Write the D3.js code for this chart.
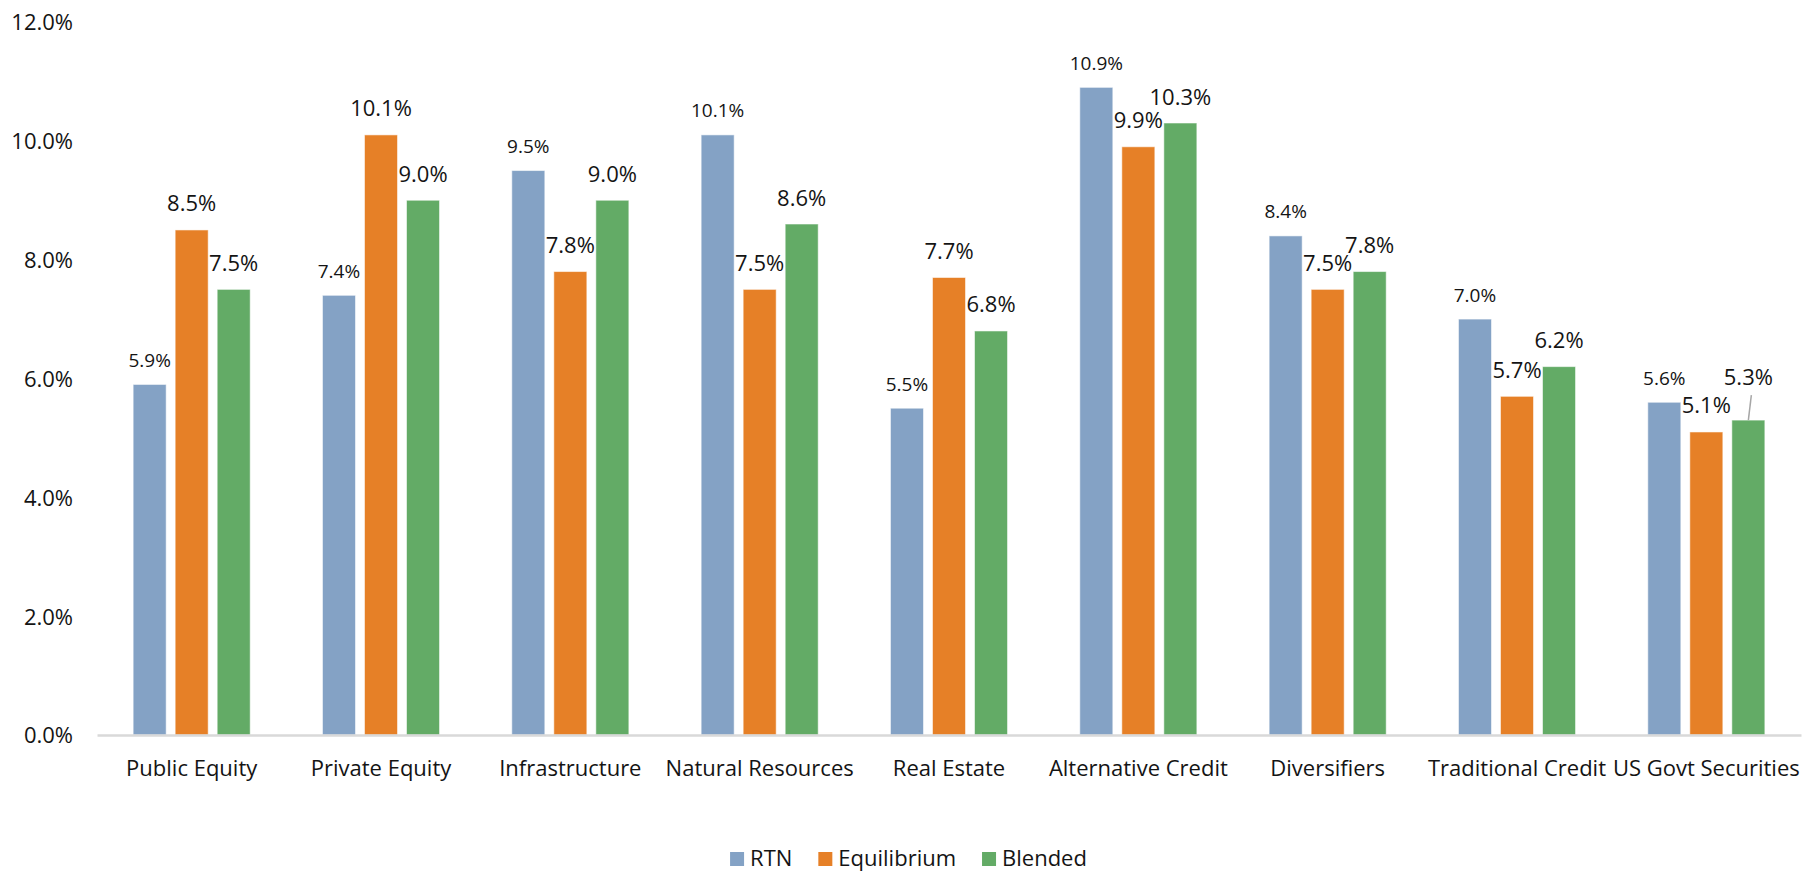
<!DOCTYPE html>
<html>
<head>
<meta charset="utf-8">
<script src="https://cdn.jsdelivr.net/npm/d3@7/dist/d3.min.js"></script>
<style>
  html, body { margin: 0; padding: 0; background: #ffffff; }
  svg { display: block; font-family: "Open Sans", "Noto Sans", sans-serif; }
</style>
</head>
<body>
<svg id="chart" width="1817" height="872"></svg>
<script>
// Asset classes along the x axis
const categories = [
  "Public Equity", "Private Equity", "Infrastructure", "Natural Resources",
  "Real Estate", "Alternative Credit", "Diversifiers", "Traditional Credit",
  "US Govt Securities"
];

// Series names (legend order)
const seriesNames = ["RTN", "Equilibrium", "Blended"];

// Expected returns, in percent
const rtnValues         = [5.9, 7.4, 9.5, 10.1, 5.5, 10.9, 8.4, 7.0, 5.6];
const equilibriumValues = [8.5, 10.1, 7.8, 7.5, 7.7, 9.9, 7.5, 5.7, 5.1];
const blendedValues     = [7.5, 9.0, 9.0, 8.6, 6.8, 10.3, 7.8, 6.2, 5.3];

// Y axis ticks, in percent
const yTicks = [0, 2, 4, 6, 8, 10, 12];

const seriesColors = ["#84a2c5", "#e68027", "#63ab66"];

// Labels that sit higher than usual and are tied to their bar by a leader line
const leaderLabels = [{ category: "US Govt Securities", series: "Blended", lift: 17 }];

const seriesValues = [rtnValues, equilibriumValues, blendedValues];
const rows = [];
categories.forEach((c, i) => {
  seriesNames.forEach((s, j) => {
    rows.push({ category: c, series: s, value: seriesValues[j][i], si: j });
  });
});

const svg = d3.select("#chart");
const margin = { left: 97, right: 16, top: 22, bottom: 137 };
const W = 1817, H = 872;

const x0 = d3.scaleBand()
  .domain(categories)
  .range([margin.left, W - margin.right])
  .padding(0);

const x1 = d3.scaleBand()
  .domain(seriesNames)
  .range([0, x0.bandwidth()])
  .paddingInner(0.214)
  .paddingOuter(0.86);

const y = d3.scaleLinear()
  .domain([0, 12])
  .range([H - margin.bottom, margin.top]);

// Y axis: labels only
const yAxis = svg.append("g")
  .attr("transform", `translate(${margin.left},0)`)
  .call(d3.axisLeft(y).tickValues(yTicks).tickFormat(d => d.toFixed(1) + "%").tickSize(0).tickPadding(24));
yAxis.select(".domain").remove();
yAxis.selectAll("text")
  .attr("font-family", "Open Sans")
  .attr("font-size", 22)
  .attr("fill", "#141414")
  .attr("dy", "0.36em");

// Bars
svg.append("g")
  .selectAll("rect")
  .data(rows)
  .join("rect")
  .attr("x", d => x0(d.category) + x1(d.series))
  .attr("width", x1.bandwidth())
  .attr("y", d => y(d.value))
  .attr("height", d => y(0) - y(d.value))
  .attr("fill", d => seriesColors[d.si])
  .attr("stroke", "#ffffff")
  .attr("stroke-opacity", 0.55)
  .attr("stroke-width", 1);

// X axis
const xAxis = svg.append("g")
  .attr("transform", `translate(0,${y(0)})`)
  .call(d3.axisBottom(x0).tickSize(0));
xAxis.select(".domain")
  .attr("stroke", "#d9d9d9")
  .attr("stroke-width", 2.5);
xAxis.selectAll("text")
  .attr("font-family", "Open Sans")
  .attr("font-size", 22)
  .attr("fill", "#141414")
  .attr("y", 41)
  .attr("dy", 0);

// Data labels
const liftOf = d => {
  const m = leaderLabels.find(l => l.category === d.category && l.series === d.series);
  return m ? m.lift : 0;
};
const labelG = svg.append("g");
labelG.selectAll("text")
  .data(rows)
  .join("text")
  .attr("x", d => x0(d.category) + x1(d.series) + x1.bandwidth() / 2)
  .attr("y", d => y(d.value) - (d.si === 0 ? 17.5 : 18.5) - liftOf(d))
  .attr("text-anchor", "middle")
  .attr("font-family", "Open Sans")
  .attr("font-size", d => d.si === 0 ? 19 : 22)
  .attr("fill", "#141414")
  .text(d => d.value.toFixed(1) + "%");

// Leader lines for lifted labels
labelG.selectAll("line")
  .data(rows.filter(d => liftOf(d) > 0))
  .join("line")
  .attr("x1", d => x0(d.category) + x1(d.series) + x1.bandwidth() / 2 + 3)
  .attr("y1", d => y(d.value) - liftOf(d) - 8)
  .attr("x2", d => x0(d.category) + x1(d.series) + x1.bandwidth() / 2)
  .attr("y2", d => y(d.value))
  .attr("stroke", "#a6a6a6")
  .attr("stroke-width", 1.5);

// Legend, centred under the chart
const legend = svg.append("g");
const items = legend.selectAll("g")
  .data(seriesNames)
  .join("g");
items.append("rect")
  .attr("width", 14)
  .attr("height", 14)
  .attr("y", 852)
  .attr("fill", (d, i) => seriesColors[i]);
items.append("text")
  .attr("x", 20)
  .attr("y", 866)
  .attr("font-family", "Open Sans")
  .attr("font-size", 22)
  .attr("fill", "#141414")
  .text(d => d);
let cursor = 0;
const offsets = [];
items.each(function () {
  const w = this.getBBox().width;
  offsets.push(cursor);
  cursor += w + 26;
});
const total = cursor - 26;
const startX = W / 2 - total / 2;
items.attr("transform", (d, i) => `translate(${startX + offsets[i]},0)`);
</script>
</body>
</html>
